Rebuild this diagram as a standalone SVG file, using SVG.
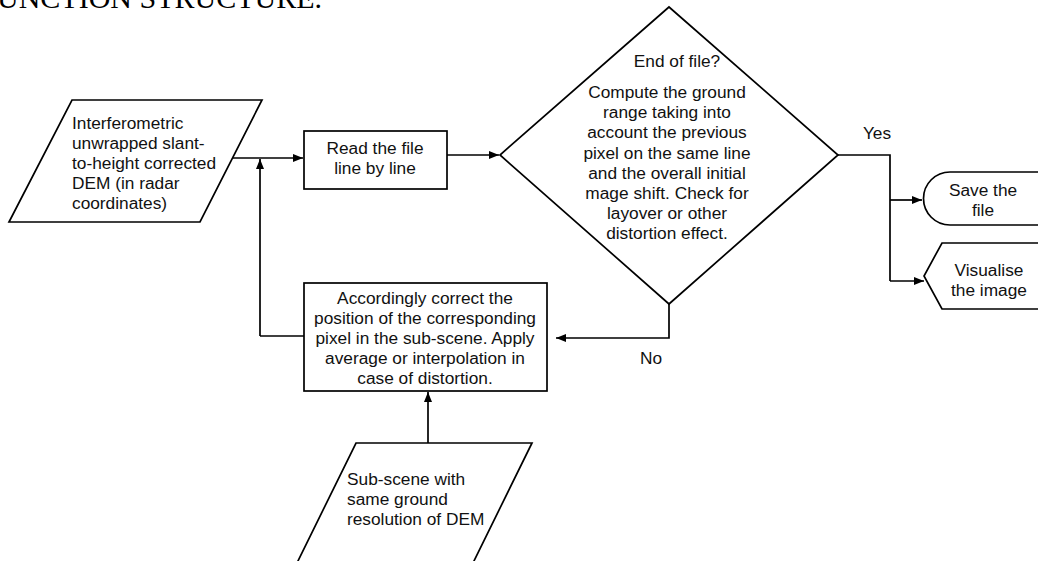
<svg xmlns="http://www.w3.org/2000/svg" width="1038" height="561" viewBox="0 0 1038 561">
  <defs>
    <marker id="arrow" viewBox="0 0 10 8" refX="10" refY="4" markerWidth="10" markerHeight="8" markerUnits="userSpaceOnUse" orient="auto">
      <path d="M0,0 L10,4 L0,8 Z" fill="#000"/>
    </marker>
  </defs>
  <style>
    .shape { fill: #fff; stroke: #000; stroke-width: 1.7; }
    .link { fill: none; stroke: #000; stroke-width: 1.7; }
    .arr { marker-end: url(#arrow); }
    text { font-family: "Liberation Sans", Arial, sans-serif; font-size: 17.3px; fill: #111; }
    .c { text-anchor: middle; }
    .title { font-family: "Liberation Serif", "Times New Roman", serif; font-size: 30px; fill: #000; }
  </style>

  <rect width="1038" height="561" fill="#fff"/>

  <text class="title" x="-3" y="8">UNCTION STRUCTURE.</text>

  <!-- connectors -->
  <g id="connectors">
    <path class="link arr" d="M231,158 L303,158"/>
    <path class="link arr" d="M260,336 L260,159"/>
    <path class="link" d="M304,336 L260,336"/>
    <path class="link arr" d="M447,155 L499,155"/>
    <path class="link arr" d="M669,304 L669,338 L556,338"/>
    <path class="link" d="M838,155 L890,155 L890,281"/>
    <path class="link arr" d="M890,200 L922,200"/>
    <path class="link arr" d="M890,281 L924,281"/>
    <path class="link arr" d="M428,443 L428,392"/>
    <text class="c" x="877" y="139">Yes</text>
    <text class="c" x="651" y="364">No</text>
  </g>

  <!-- input DEM -->
  <g id="input-dem">
    <polygon class="shape" points="72,100 262,100 200,222 9,222"/>
    <text x="72" y="129">Interferometric</text>
    <text x="72" y="149">unwrapped slant-</text>
    <text x="72" y="169">to-height corrected</text>
    <text x="72" y="189">DEM (in radar</text>
    <text x="72" y="209">coordinates)</text>
  </g>

  <!-- read step -->
  <g id="read-file">
    <rect class="shape" x="304" y="131" width="143" height="58"/>
    <text class="c" x="375" y="154">Read the file</text>
    <text class="c" x="375" y="174">line by line</text>
  </g>

  <!-- decision -->
  <g id="decision">
    <polygon class="shape" points="669,7 838,155 669,304 500,155"/>
    <text class="c" x="677" y="67">End of file?</text>
    <text class="c" x="667" y="98">Compute the ground</text>
    <text class="c" x="667" y="118">range taking into</text>
    <text class="c" x="667" y="138">account the previous</text>
    <text class="c" x="667" y="159">pixel on the same line</text>
    <text class="c" x="667" y="179">and the overall initial</text>
    <text class="c" x="667" y="199">mage shift. Check for</text>
    <text class="c" x="667" y="219">layover or other</text>
    <text class="c" x="667" y="239">distortion effect.</text>
  </g>

  <!-- correction step -->
  <g id="correct">
    <rect class="shape" x="304" y="283" width="243" height="108"/>
    <text class="c" x="425" y="304">Accordingly correct the</text>
    <text class="c" x="425" y="324">position of the corresponding</text>
    <text class="c" x="425" y="344">pixel in the sub-scene. Apply</text>
    <text class="c" x="425" y="364">average or interpolation in</text>
    <text class="c" x="425" y="384">case of distortion.</text>
  </g>

  <!-- sub-scene input -->
  <g id="sub-scene">
    <polygon class="shape" points="356,443 532,443 472,565 296,565"/>
    <text x="347" y="485">Sub-scene with</text>
    <text x="347" y="505">same ground</text>
    <text x="347" y="525">resolution of DEM</text>
  </g>

  <!-- outputs -->
  <g id="save-file">
    <path class="shape" d="M1045,172 L950,172 A26.5,26.5 0 0 0 950,225 L1045,225"/>
    <text class="c" x="983" y="196">Save the</text>
    <text class="c" x="983" y="216">file</text>
  </g>
  <g id="visualise">
    <path class="shape" d="M1045,243 L942,243 L924,276 L942,309 L1045,309"/>
    <text class="c" x="989" y="276">Visualise</text>
    <text class="c" x="989" y="296">the image</text>
  </g>
</svg>
